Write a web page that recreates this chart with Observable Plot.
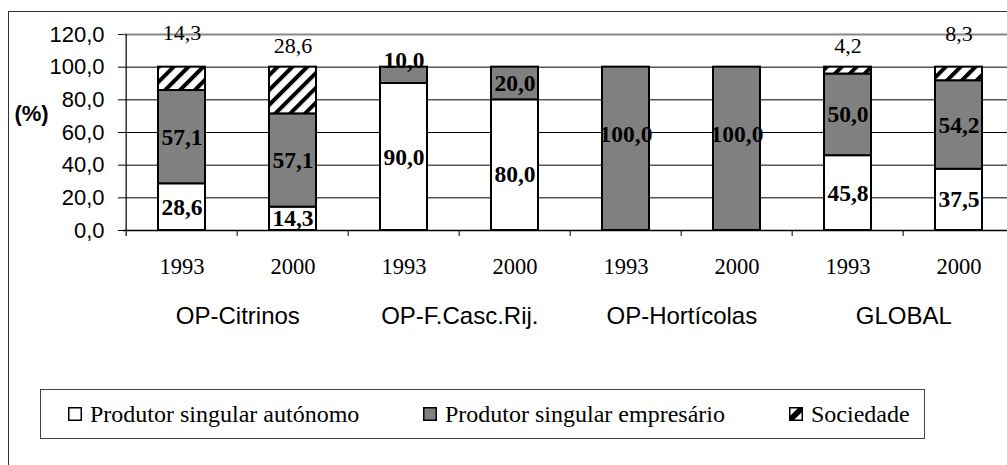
<!DOCTYPE html>
<html>
<head>
<meta charset="utf-8">
<script src="https://cdn.jsdelivr.net/npm/d3@7"></script>
<script src="https://cdn.jsdelivr.net/npm/@observablehq/plot@0.6"></script>
<style>
  html, body { margin: 0; padding: 0; background: #fff; overflow: hidden; }
  #wrap { position: relative; width: 1007px; height: 465px; overflow: hidden; }
  #frame { position: absolute; left: 8px; top: 11px; width: 1100px; height: 500px;
           border-left: 1.5px solid #333; border-top: 1.5px solid #333; pointer-events: none; }
  #chart { position: absolute; left: 0; top: 0; }
  #legend { position: absolute; left: 40px; top: 389px; width: 885px; height: 50px;
            border: 1px solid #444; box-sizing: border-box; font-family: "Liberation Serif", serif;
            font-size: 24px; color: #000; }
  .item { position: absolute; top: 0; height: 48px; display: flex; align-items: center; white-space: nowrap; }
  .sw { display: inline-block; width: 14px; height: 14px; margin-right: 8px; }
</style>
</head>
<body>
<div id="wrap">
  <div id="frame"></div>
  <div id="chart"></div>
  <div id="legend"></div>
</div>
<script>
// ---- data ----
const categories = ["OP-Citrinos", "OP-F.Casc.Rij.", "OP-Hortícolas", "GLOBAL"];
const years = ["1993", "2000"];
const series = ["Produtor singular autónomo", "Produtor singular empresário", "Sociedade"];
const autonomo   = [28.6, 14.3, 90.0, 80.0, 0, 0, 45.8, 37.5];
const empresario = [57.1, 57.1, 10.0, 20.0, 100.0, 100.0, 50.0, 54.2];
const sociedade  = [14.3, 28.6, 0, 0, 0, 0, 4.2, 8.3];
const yTicks = [0, 20, 40, 60, 80, 100, 120];
// label anchor overrides (in %), null = centred in the segment
const autLabelAt = [null, null, null, 34, null, null, null, null];
const empLabelAt = [null, null, 104, null, 59, 59, null, null];
const socLabelAt = [121, 113, null, null, null, null, 113, 120.5];

// ---- derived table ----
const bars = categories.flatMap(c => years.map(y => c + "|" + y));
const values = [autonomo, empresario, sociedade];
const overrides = [autLabelAt, empLabelAt, socLabelAt];
const rows = [];
const labels = [];
bars.forEach((b, i) => {
  let base = 0;
  series.forEach((s, j) => {
    const v = values[j][i];
    if (v > 0) {
      rows.push({bar: b, series: s, value: v});
      const at = overrides[j][i];
      labels.push({bar: b, series: s, value: v, y: at != null ? at : base + v / 2, bold: j < 2});
    }
    base += v;
  });
});
const fmt = v => v.toFixed(1).replace(".", ",");

const xRange = [123.6, 1017];
const step = (xRange[1] - xRange[0]) / bars.length;
const serif = "Liberation Serif";
const sans = "Liberation Sans";

const svg = Plot.plot({
  width: 1007,
  height: 375,
  marginLeft: 123,
  marginRight: 0,
  marginTop: 34,
  marginBottom: 145,
  style: {background: "transparent", overflow: "visible", fontFamily: sans, fontSize: "22px", color: "#000"},
  x: {domain: bars, range: xRange, paddingInner: 0.58, paddingOuter: 0.29, axis: null},
  y: {domain: [0, 120], ticks: yTicks, tickFormat: fmt, tickSize: 5, tickPadding: 14, label: null},
  color: {domain: series, range: ["white", "#808080", "url(#hatch)"]},
  marks: [
    Plot.ruleY([20, 40, 60, 80, 100], {stroke: "#000", strokeWidth: 1}),
    Plot.ruleY([120], {stroke: "#888", strokeWidth: 2}),
    Plot.barY(rows, {x: "bar", y: "value", fill: "series", stroke: "#000", strokeWidth: 2}),
    Plot.ruleY([0], {stroke: "#000", strokeWidth: 1.5}),
    Plot.ruleX([bars[0]], {x: d => d, dx: -step / 2, y1: -3.7, y2: 120, stroke: "#000", strokeWidth: 1.2}),
    Plot.ruleX(bars.slice(1), {x: d => d, dx: -step / 2, y1: 0, y2: -3.7, stroke: "#000", strokeWidth: 1}),
    Plot.text(labels.filter(d => d.bold), {x: "bar", y: "y", text: d => fmt(d.value),
      fontFamily: serif, fontSize: 23.5, fontWeight: "bold", fill: "#000"}),
    Plot.text(labels.filter(d => !d.bold), {x: "bar", y: "y", text: d => fmt(d.value),
      fontFamily: serif, fontSize: 22, fill: "#000"}),
    Plot.text(bars, {x: d => d, y: () => 0, dy: 36, text: d => d.split("|")[1],
      fontFamily: serif, fontSize: 22.5, fill: "#000"}),
    Plot.text(categories, {x: d => d + "|" + years[0], y: () => 0, dx: step / 2, dy: 86, text: d => d,
      fontFamily: sans, fontSize: 24, fill: "#000"}),
    Plot.text(["(%)"], {frameAnchor: "left", textAnchor: "middle", dx: -92, dy: -19, text: d => d,
      fontFamily: sans, fontSize: 22, fontWeight: "bold", fill: "#000"})
  ]
});

// hatch pattern for "Sociedade"
const defs = d3.select(svg).insert("defs", ":first-child");
const pat = defs.append("pattern").attr("id", "hatch").attr("patternUnits", "userSpaceOnUse")
  .attr("width", 10.5).attr("height", 10.5).attr("patternTransform", "rotate(45)");
pat.append("rect").attr("width", 10.5).attr("height", 10.5).attr("fill", "white");
pat.append("rect").attr("width", 4).attr("height", 10.5).attr("fill", "black");

document.getElementById("chart").appendChild(svg);

// legend
const legend = document.getElementById("legend");
const lefts = [27, 382, 748];
const swatch = [
  '<svg class="sw" viewBox="0 0 14 14"><rect x="0.75" y="0.75" width="12.5" height="12.5" fill="white" stroke="black" stroke-width="1.5"/></svg>',
  '<svg class="sw" viewBox="0 0 14 14"><rect x="0.75" y="0.75" width="12.5" height="12.5" fill="#808080" stroke="black" stroke-width="1.5"/></svg>',
  '<svg class="sw" viewBox="0 0 14 14"><rect x="0.75" y="0.75" width="12.5" height="12.5" fill="white" stroke="black" stroke-width="1.5"/><path d="M1 13 L1 9 L9 1 L13 1 L13 5 L5 13 Z" fill="black"/></svg>'
];
series.forEach((s, i) => {
  const el = document.createElement("div");
  el.className = "item";
  el.style.left = lefts[i] + "px";
  el.innerHTML = swatch[i] + "<span>" + s + "</span>";
  legend.appendChild(el);
});
</script>
</body>
</html>
